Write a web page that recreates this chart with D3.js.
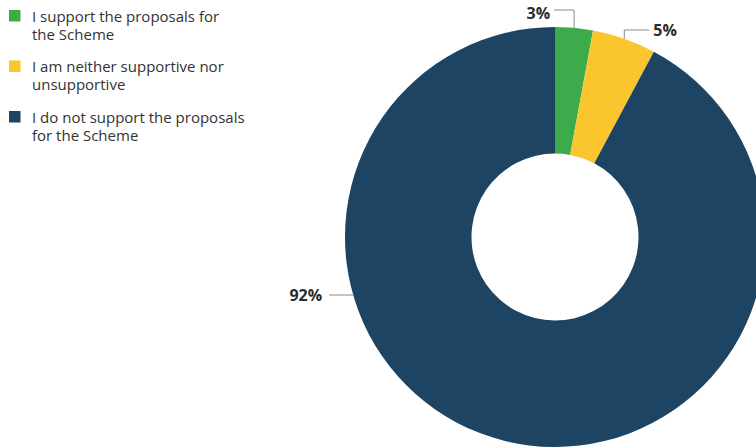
<!DOCTYPE html>
<html>
<head>
<meta charset="utf-8">
<script src="https://cdn.jsdelivr.net/npm/d3@7"></script>
<style>
  body { margin: 0; background: #fff; overflow: hidden; }
  #viz { width: 756px; height: 448px; }
  text { font-family: "Open Sans", Lato, sans-serif; }
</style>
</head>
<body>
<div id="viz"></div>
<script>
// answers + shares
var categories = ['I support the proposals for the Scheme', 'I am neither supportive nor unsupportive', 'I do not support the proposals for the Scheme'];
var legendLines = [['I support the proposals for', 'the Scheme'], ['I am neither supportive nor', 'unsupportive'], ['I do not support the proposals', 'for the Scheme']];
var values = [2.9, 4.9, 92.2];
var labels = ['3%', '5%', '92%'];
var colors = ['#3dab4c', '#fbc52e', '#1d4563'];

var chart = ({width: 756, height: 448})
var cx = 555, cy = 237, outerR = 210, innerR = 83.5;

var svg = d3.select('#viz')
  .append('svg')
  .attr('width', chart.width)
  .attr('height', chart.height)

var pie = d3.pie().sort(null).value((d) => d);
var arcs = pie(values);

var arc = d3.arc().innerRadius(innerR).outerRadius(outerR);

var g = svg.append('g').attr('transform', 'translate(' + cx + ',' + cy + ')');

g.selectAll('path')
  .data(arcs)
  .enter()
  .append('path')
  .attr('d', arc)
  .attr('fill', (d, i) => colors[i]);

// leader lines: small ones go up then sideways, the big one comes in from the left
function onArc(a, r) {
  return [Math.sin(a) * r, -Math.cos(a) * r];
}
var lineY = [-227, -207];   // y of the elbow (relative to centre) for the two small slices
var lineLen = [20, 25];
var baseOff = [8.5, 6];     // text baseline below the elbow
var labelColor = '#2b2b2b';

[0, 1].forEach(function(i) {
  var mid = (arcs[i].startAngle + arcs[i].endAngle) / 2;
  var p = onArc(mid, outerR);
  var dir = i === 0 ? -1 : 1;
  var end = p[0] + dir * lineLen[i];
  g.append('path')
    .attr('d', 'M' + p[0] + ',' + p[1] + 'V' + lineY[i] + 'H' + end)
    .attr('fill', 'none')
    .attr('stroke', '#8a8a8a')
    .attr('stroke-width', 1);
  g.append('text')
    .attr('x', end + dir * 4)
    .attr('y', lineY[i] + baseOff[i])
    .attr('text-anchor', i === 0 ? 'end' : 'start')
    .attr('font-size', 16)
    .attr('font-weight', 700)
    .attr('fill', labelColor)
    .text(labels[i]);
});

// big slice label on the left
var bigY = 58;
var bigX = -Math.sqrt(outerR * outerR - bigY * bigY);
g.append('line')
  .attr('x1', bigX).attr('y1', bigY)
  .attr('x2', bigX - 24).attr('y2', bigY)
  .attr('stroke', '#8a8a8a')
  .attr('stroke-width', 1);
g.append('text')
  .attr('x', bigX - 31)
  .attr('y', bigY + 6)
  .attr('text-anchor', 'end')
  .attr('font-size', 16)
  .attr('font-weight', 700)
  .attr('fill', labelColor)
  .text(labels[2]);

// legend
var legend = svg.append('g')
  .attr('id', 'legend')
  .attr('transform', 'translate(9, 10)')

var item = legend.selectAll('g')
  .data(categories)
  .enter()
  .append('g')
  .attr('transform', (d, i) => 'translate(0,' + i * 50.5 + ')');

item.append('rect')
  .attr('width', 11.5)
  .attr('height', 11.5)
  .attr('fill', (d, i) => colors[i]);

item.append('text')
  .attr('x', 23)
  .attr('y', 0)
  .attr('font-size', 15)
  .attr('fill', '#333')
  .selectAll('tspan')
  .data((d, i) => legendLines[i])
  .enter()
  .append('tspan')
  .attr('x', 23)
  .attr('y', (d, j) => 11.5 + j * 18)
  .text((d) => d);
</script>
</body>
</html>
